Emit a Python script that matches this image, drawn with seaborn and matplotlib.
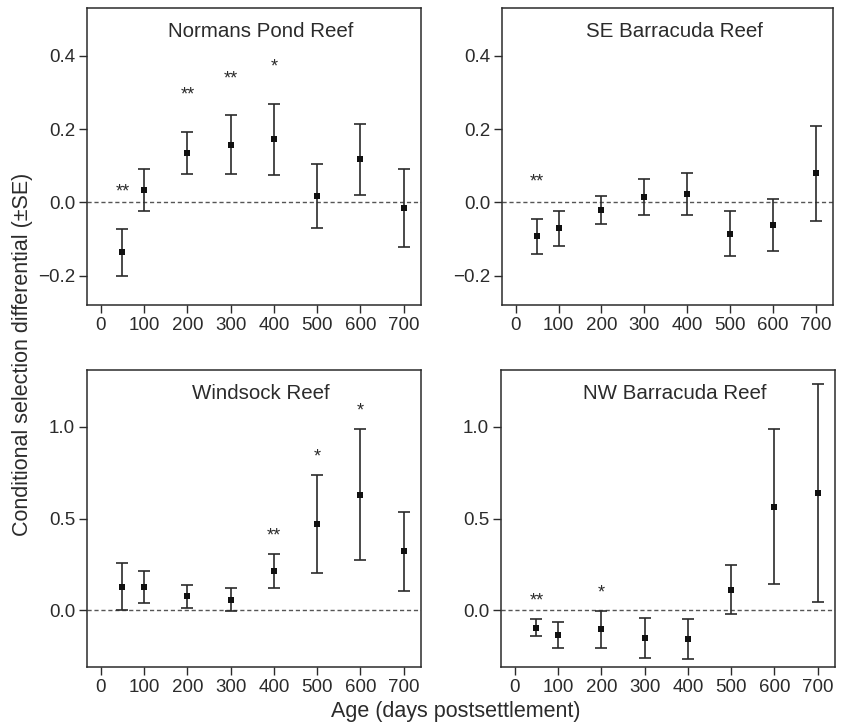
import matplotlib
matplotlib.use("Agg")
import matplotlib.pyplot as plt
import numpy as np
import pandas as pd
import seaborn as sns

# Age classes (days postsettlement)
ages = [50, 100, 200, 300, 400, 500, 600, 700]

# Conditional selection differentials and standard errors per reef
normans_mean = [-0.136, 0.033, 0.134, 0.157, 0.172, 0.018, 0.117, -0.015]
normans_se = [0.064, 0.057, 0.058, 0.080, 0.097, 0.087, 0.097, 0.106]
normans_sig = ["**", "", "**", "**", "*", "", "", ""]

se_barr_mean = [-0.093, -0.071, -0.022, 0.015, 0.023, -0.085, -0.062, 0.079]
se_barr_se = [0.048, 0.047, 0.038, 0.050, 0.058, 0.061, 0.070, 0.129]
se_barr_sig = ["**", "", "", "", "", "", "", ""]

windsock_mean = [0.128, 0.126, 0.076, 0.057, 0.213, 0.469, 0.631, 0.322]
windsock_se = [0.128, 0.086, 0.064, 0.062, 0.093, 0.267, 0.356, 0.215]
windsock_sig = ["", "", "", "", "**", "*", "*", ""]

nw_barr_mean = [-0.095, -0.134, -0.104, -0.153, -0.156, 0.112, 0.564, 0.639]
nw_barr_se = [0.046, 0.070, 0.100, 0.109, 0.109, 0.133, 0.423, 0.596]
nw_barr_sig = ["**", "", "*", "", "", "", "", ""]

reefs = ["Normans Pond Reef", "SE Barracuda Reef", "Windsock Reef", "NW Barracuda Reef"]
means = [normans_mean, se_barr_mean, windsock_mean, nw_barr_mean]
ses = [normans_se, se_barr_se, windsock_se, nw_barr_se]
sigs = [normans_sig, se_barr_sig, windsock_sig, nw_barr_sig]

x_ticks = [0, 100, 200, 300, 400, 500, 600, 700]
top_yticks = [-0.2, 0.0, 0.2, 0.4]
bottom_yticks = [0.0, 0.5, 1.0]

sns.set_style("ticks")
plt.rcParams["font.family"] = ["Liberation Sans", "DejaVu Sans"]
plt.rcParams["axes.unicode_minus"] = True

ink = "#2b2b2b"
fig = plt.figure(figsize=(8.42, 7.24), dpi=100)

positions = [
    [0.1033, 0.5787, 0.3967, 0.4102],
    [0.5962, 0.5787, 0.3930, 0.4102],
    [0.1033, 0.0787, 0.3967, 0.4102],
    [0.5950, 0.0787, 0.3967, 0.4102],
]
ylims = [(-0.28, 0.53), (-0.28, 0.53), (-0.31, 1.31), (-0.31, 1.31)]

for i, reef in enumerate(reefs):
    ax = fig.add_axes(positions[i])
    df = pd.DataFrame({"age": ages, "diff": means[i], "se": ses[i], "sig": sigs[i]})

    ax.axhline(0, color="#555555", lw=1.0, ls=(0, (3, 2)), zorder=1)
    ax.errorbar(df["age"], df["diff"], yerr=df["se"], fmt="none",
                ecolor=ink, elinewidth=1.2, capsize=4.5, capthick=1.2, zorder=2)
    sns.scatterplot(data=df, x="age", y="diff", marker="s", s=22,
                    color="#111111", edgecolor="#111111", linewidth=0,
                    ax=ax, zorder=3, legend=False)

    # significance markers above the upper SE bound
    for _, row in df.iterrows():
        if row["sig"]:
            ax.text(row["age"], row["diff"] + row["se"] + 0.1, row["sig"],
                    ha="center", va="center", fontsize=13, color=ink)

    ax.set_xlim(-32, 740)
    ax.set_ylim(*ylims[i])
    ax.set_xticks(x_ticks)
    ax.set_yticks(top_yticks if i < 2 else bottom_yticks)
    ax.set_xlabel("")
    ax.set_ylabel("")
    ax.tick_params(axis="both", labelsize=13.5, colors=ink, length=6,
                   width=1.0, direction="out", pad=2.5)
    for sp in ax.spines.values():
        sp.set_visible(True)
        sp.set_color(ink)
        sp.set_linewidth(1.1)
    ax.text(0.52, 0.92, reef, transform=ax.transAxes, ha="center", va="center",
            fontsize=14.8, color=ink)

fig.text(0.541, 0.017, "Age (days postsettlement)", ha="center", va="center",
         fontsize=15.5, color=ink)
fig.text(0.027, 0.511, "Conditional selection differential (\u00b1SE)", ha="center",
         va="center", rotation=90, fontsize=15.5, color=ink)

fig.savefig("out.png", dpi=100, facecolor="white")
